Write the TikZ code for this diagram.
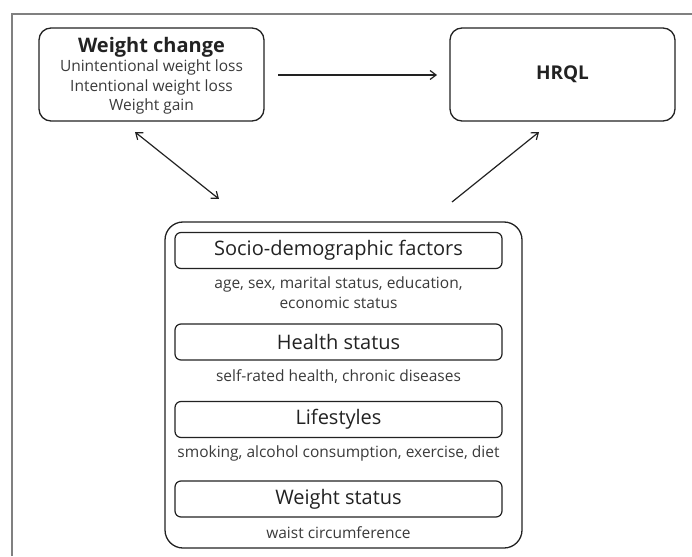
\documentclass[tikz,border=0pt]{standalone}
\usepackage{fontspec}
\setmainfont{Open Sans}
\usetikzlibrary{arrows.meta}
\definecolor{ink}{HTML}{222222}
\definecolor{sub}{HTML}{3a3a3a}
\definecolor{frame}{HTML}{808080}
\tikzset{
  box/.style={draw=ink, line width=1.3pt, rounded corners=12pt, inner sep=0pt},
  inbox/.style={draw=ink, line width=1.2pt, rounded corners=6pt, inner sep=0pt, minimum width=327pt, minimum height=36pt, font=\fontsize{20}{22}\selectfont, text=ink},
  subtxt/.style={inner sep=0pt, font=\fontsize{15.5}{19.5}\selectfont, text=sub, align=center},
  arr/.style={draw=ink, line width=1.2pt, -{Straight Barb[length=6pt,width=9pt]}},
  darr/.style={draw=ink, line width=1.2pt, {Straight Barb[length=6pt,width=9pt]}-{Straight Barb[length=6pt,width=9pt]}}
}
\begin{document}
\begin{tikzpicture}[x=1pt,y=-1pt]
\useasboundingbox (0,0) rectangle (692,556);
\draw[frame, line width=1.2pt] (12,556) -- (12,14) -- (692,14);
% top boxes
\node[box, minimum width=225pt, minimum height=93pt] (wc) at (151.5,74.5) {};
\node[inner sep=0pt, align=center, text=ink] (wct) at (151.5,47) {\fontsize{20}{22}\selectfont\bfseries Weight change};
\node[subtxt, text=sub] (wcs) at (151.5,87) {\fontsize{15.5}{19.5}\selectfont Unintentional weight loss\\Intentional weight loss\\Weight gain};
\node[box, minimum width=225pt, minimum height=93pt, font=\fontsize{19}{21}\selectfont\bfseries, text=ink] (hrql) at (562.5,74.5) {HRQL};
% big box
\node[box, rounded corners=18pt, minimum width=357pt, minimum height=326pt] (big) at (343.5,385) {};
\node[inbox] (soc) at (338.5,250.5) {Socio-demographic factors};
\node[subtxt] (socs) at (338.5,292.5) {age, sex, marital status, education,\\economic status};
\node[inbox] (hs) at (338.5,342) {Health status};
\node[subtxt] (hss) at (338.5,377) {self-rated health, chronic diseases};
\node[inbox] (ls) at (338.5,419.5) {Lifestyles};
\node[subtxt] (lss) at (338.5,453) {smoking, alcohol consumption, exercise, diet};
\node[inbox] (ws) at (338.5,499) {Weight status};
\node[subtxt] (wss) at (338.5,533) {waist circumference};
% connectors
\coordinate (a1) at (278,75);
\coordinate (a2) at (437,75);
\coordinate (b1) at (135,132);
\coordinate (b2) at (219,199);
\coordinate (c1) at (452,202);
\coordinate (c2) at (539,132);
\draw[arr] (a1) -- (a2);
\draw[darr] (b1) -- (b2);
\draw[arr] (c1) -- (c2);
\end{tikzpicture}
\end{document}
